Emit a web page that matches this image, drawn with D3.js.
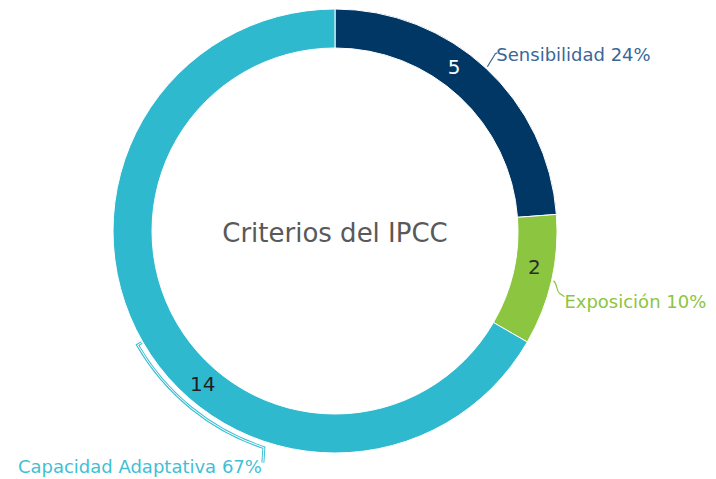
<!DOCTYPE html>
<html>
<head>
<meta charset="utf-8">
<script src="https://cdn.jsdelivr.net/npm/d3@7"></script>
<style>
  body { margin: 0; background: #fff; }
  svg { display: block; font-family: "DejaVu Sans", sans-serif; }
</style>
</head>
<body>
<div id="chart"></div>
<script>
// data
const categories = ["Sensibilidad", "Exposición", "Capacidad Adaptativa"]
const values = [5, 2, 14]
const colors = ["#003764", "#8CC540", "#2FB9CF"]
const labelColors = ["#3A6796", "#8CC540", "#3FC0D4"]
const numberColors = ["#ffffff", "#2b2b2b", "#1f1f1f"]
const title = "Criterios del IPCC"

const width = 716, height = 479
const cx = 335, cy = 231
const rOuter = 222, rInner = 183
const labelSize = 18

const svg = d3.select("#chart").append("svg")
    .attr("width", width).attr("height", height)
const g = svg.append("g").attr("transform", `translate(${cx},${cy})`)

const total = d3.sum(values)
const pie = d3.pie().sort(null).value(d => d)
const arcs = pie(values)
const arc = d3.arc().innerRadius(rInner).outerRadius(rOuter)

g.selectAll("path.slice")
    .data(arcs)
    .join("path")
    .attr("class", "slice")
    .attr("d", arc)
    .attr("fill", (d, i) => colors[i])
    .attr("stroke", "#fff")
    .attr("stroke-width", 1)

// point on a circle, angle measured clockwise from 12 o'clock
function pt(a, r) { return [Math.sin(a) * r, -Math.cos(a) * r] }

// value labels sit a bit before the middle of each slice
arcs.forEach((d, i) => {
    let a = d.startAngle + 0.42 * (d.endAngle - d.startAngle)
    let p = pt(a, (rInner + rOuter) / 2)
    g.append("text")
        .attr("x", p[0]).attr("y", p[1])
        .attr("text-anchor", "middle")
        .attr("dominant-baseline", "central")
        .attr("font-size", 20)
        .attr("fill", numberColors[i])
        .text(d.data)
})

// center title
g.append("text")
    .attr("x", 0).attr("y", 2)
    .attr("text-anchor", "middle")
    .attr("dominant-baseline", "central")
    .attr("font-size", 26)
    .attr("fill", "#595959")
    .text(title)

const pct = v => Math.round(v / total * 100) + "%"
const mid = d => (d.startAngle + d.endAngle) / 2

// Sensibilidad: short leader up-right
{
    let d = arcs[0]
    let s = pt(mid(d), rOuter + 2)
    g.append("path")
        .attr("d", `M${s[0]},${s[1]} L${s[0] + 8},${s[1] - 13} L${s[0] + 10},${s[1] - 14}`)
        .attr("fill", "none").attr("stroke", labelColors[0]).attr("stroke-width", 1.2)
    g.append("text")
        .attr("x", s[0] + 9).attr("y", s[1] - 12)
        .attr("dominant-baseline", "central")
        .attr("font-size", labelSize)
        .attr("fill", labelColors[0])
        .text(`${categories[0]} ${pct(values[0])}`)
}

// Exposición: short leader down-right
{
    let d = arcs[1]
    let s = pt(mid(d), rOuter + 2)
    g.append("path")
        .attr("d", `M${s[0]},${s[1]} C${s[0] + 4},${s[1] + 2} ${s[0] + 3},${s[1] + 12} ${s[0] + 7},${s[1] + 13} L${s[0] + 11},${s[1] + 16}`)
        .attr("fill", "none").attr("stroke", labelColors[1]).attr("stroke-width", 1.2)
    g.append("text")
        .attr("x", s[0] + 11).attr("y", s[1] + 21)
        .attr("dominant-baseline", "central")
        .attr("font-size", labelSize)
        .attr("fill", labelColors[1])
        .text(`${categories[1]} ${pct(values[1])}`)
}

// Capacidad Adaptativa: bracket following the ring, then down to the label
{
    let d = arcs[2]
    let a0 = mid(d), a1 = a0 - 0.73
    let rb = rOuter + 6
    let hook = pt(a0, rOuter + 1)
    let p0 = pt(a0, rb), p1 = pt(a1, rb)
    let path = `M${hook[0]},${hook[1]} L${p0[0]},${p0[1]} A${rb},${rb} 0 0 0 ${p1[0]},${p1[1]} L${p1[0] - 1},${p1[1] + 15}`
    g.append("path").attr("d", path)
        .attr("fill", "none").attr("stroke", labelColors[2]).attr("stroke-width", 3)
    g.append("path").attr("d", path)
        .attr("fill", "none").attr("stroke", "#fff").attr("stroke-width", 1)
    g.append("text")
        .attr("x", p1[0] - 2).attr("y", p1[1] + 19)
        .attr("text-anchor", "end")
        .attr("dominant-baseline", "central")
        .attr("font-size", labelSize)
        .attr("fill", labelColors[2])
        .text(`${categories[2]} ${pct(values[2])}`)
}
</script>
</body>
</html>
